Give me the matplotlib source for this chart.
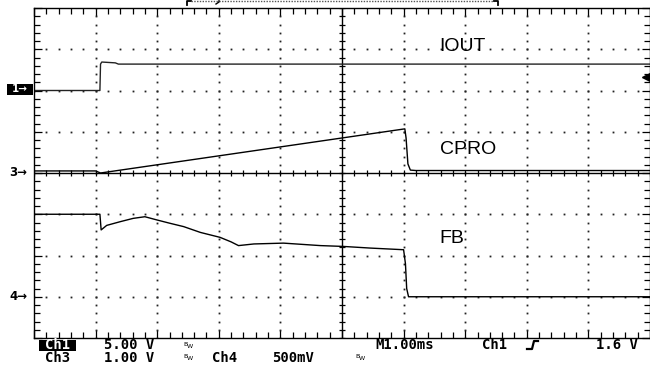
import matplotlib
matplotlib.use('Agg')
import matplotlib.pyplot as plt
from matplotlib.patches import Rectangle
import numpy as np

# ---- scope settings ----
time_per_div = 1.0          # ms/div (M1.00ms)
ch1_scale, ch1_ground = 5.0, 6   # V/div, ground position (div)
ch3_scale, ch3_ground = 1.0, 4
ch4_scale, ch4_ground = 0.5, 1
trigger_level = 1.6         # V on Ch1

# ---- traces (time in ms, value in V) ----
t_iout = [0.0, 1.07, 1.08, 1.10, 1.32, 1.37, 10.0]
v_iout = [0.0, 0.0, 3.20, 3.45, 3.35, 3.20, 3.20]

t_cpro = [0.0, 1.00, 1.08, 6.02, 6.04, 6.07, 6.11, 6.20, 10.0]
v_cpro = [0.05, 0.05, 0.0, 1.07, 0.85, 0.22, 0.07, 0.06, 0.06]

t_fb = [0.0, 1.07, 1.09, 1.18, 1.40, 1.61, 1.80, 2.00, 2.21, 2.43, 2.70,
        3.02, 3.20, 3.32, 3.57, 4.05, 4.65, 5.02, 5.46, 6.00, 6.03, 6.05,
        6.08, 10.0]
v_fb = [1.0, 1.0, 0.81, 0.865, 0.91, 0.95, 0.97, 0.93, 0.89, 0.85, 0.78,
        0.72, 0.665, 0.62, 0.64, 0.65, 0.62, 0.61, 0.59, 0.57, 0.40, 0.10,
        0.0, 0.0]

labels = ["IOUT", "CPRO", "FB"]

W, H = 650, 367
fig = plt.figure(figsize=(W / 100, H / 100), dpi=100)
fig.patch.set_facecolor('white')

x0, x1, ytop, ybot = 34, 650, 8, 338
ax = fig.add_axes([x0 / W, (H - ybot) / H, (x1 - x0) / W, (ybot - ytop) / H])
ax.set_xlim(0, 10)
ax.set_ylim(0, 8)
ax.set_facecolor('white')
for s in ax.spines.values():
    s.set_linewidth(1.0)
    s.set_color('black')
ax.set_xticks(range(0, 11))
ax.set_yticks(range(0, 9))
ax.set_xticks(np.arange(0, 10.01, 0.2), minor=True)
ax.set_yticks(np.arange(0, 8.01, 0.2), minor=True)
ax.tick_params(which='both', direction='in', top=True, right=True,
               labelbottom=False, labelleft=False, color='black', width=0.9)
ax.tick_params(which='major', length=6)
ax.tick_params(which='minor', length=4)

# dotted graticule
minor_x = np.arange(0, 10.01, 0.2)
minor_y = np.arange(0, 8.01, 0.2)
for gy in [1, 2, 3, 5, 6, 7]:
    ax.plot(minor_x, np.full_like(minor_x, gy), linestyle='none', marker='s',
            markersize=1.3, color='#222222', markeredgewidth=0)
for gx in [1, 2, 3, 4, 6, 7, 8, 9]:
    ax.plot(np.full_like(minor_y, gx), minor_y, linestyle='none', marker='s',
            markersize=1.3, color='#222222', markeredgewidth=0)

# centre cross with ticks
ax.axhline(4, color='black', lw=1.0)
ax.axvline(5, color='black', lw=1.0)
ax.plot(minor_x, np.full_like(minor_x, 4), linestyle='none', marker='|',
        markersize=5, color='black', markeredgewidth=0.9)
ax.plot(np.full_like(minor_y, 5), minor_y, linestyle='none', marker='_',
        markersize=5, color='black', markeredgewidth=0.9)

# traces
def to_div(t, v, scale, ground):
    return np.array(t) / time_per_div, ground + np.array(v) / scale

xi, yi = to_div(t_iout, v_iout, ch1_scale, ch1_ground)
xc, yc = to_div(t_cpro, v_cpro, ch3_scale, ch3_ground)
xf, yf = to_div(t_fb, v_fb, ch4_scale, ch4_ground)
ax.plot(xi, yi, color='#222222', lw=1.0)
ax.plot(xc, yc, color='black', lw=1.0)
ax.plot(xf, yf, color='black', lw=1.0)

# trigger level marker on the right
ax.plot([9.93], [ch1_ground + trigger_level / ch1_scale], marker='<',
        markersize=6, color='black', clip_on=False)

label_font = ['Liberation Sans Narrow', 'DejaVu Sans Condensed', 'Liberation Sans']
ax.text(6.95, 7.07, labels[0], fontsize=14, family=label_font, ha='center', va='center')
ax.text(7.04, 4.56, labels[1], fontsize=14, family=label_font, ha='center', va='center')
ax.text(6.78, 2.42, labels[2], fontsize=14, family=label_font, ha='center', va='center')

# overlay in pixel coordinates for screen annotations
ov = fig.add_axes([0, 0, 1, 1], zorder=5)
ov.set_xlim(0, W)
ov.set_ylim(H, 0)
ov.axis('off')
ov.patch.set_alpha(0)

# record bracket at top
ov.plot([187, 187, 191], [5, 0.8, 0.8], color='black', lw=1.3)
ov.plot([191, 494], [1.2, 1.2], color='#555555', lw=1.0, linestyle=(0, (1, 1)))
ov.plot([494, 498, 498], [0.8, 0.8, 5], color='black', lw=1.3)
ov.plot([216, 219, 219], [4, 2, 0.8], color='black', lw=1.0)

# channel markers
ov.add_patch(Rectangle((7, 83.5), 26, 11, facecolor='black', edgecolor='none'))
ov.text(20, 89.3, "1\u2192", fontsize=7.5, fontweight='bold', color='white', va='center',
        ha='center', family='DejaVu Sans')
ov.text(9, 173, "3\u2192", fontsize=8.5, fontweight='bold', color='black', va='center',
        ha='left', family='DejaVu Sans')
ov.text(9, 297, "4\u2192", fontsize=8.5, fontweight='bold', color='black', va='center',
        ha='left', family='DejaVu Sans')

# bottom readout
mono = 'DejaVu Sans Mono'
fs = 10
l1, l2 = 345, 357.5
ov.add_patch(Rectangle((39, 339.5), 37, 11, facecolor='black', edgecolor='none'))
ov.text(57.5, l1, "Ch1", fontsize=fs, family=mono, fontweight='bold', color='white',
        va='center', ha='center')
ov.text(104, l1, "5.00 V", fontsize=fs, family=mono, fontweight='bold', va='center', ha='left')
ov.text(57.5, l2, "Ch3", fontsize=fs, family=mono, fontweight='bold', va='center', ha='center')
ov.text(104, l2, "1.00 V", fontsize=fs, family=mono, fontweight='bold', va='center', ha='left')
ov.text(212, l2, "Ch4", fontsize=fs, family=mono, fontweight='bold', va='center', ha='left')
ov.text(272, l2, "500mV", fontsize=fs, family=mono, fontweight='bold', va='center', ha='left')
for bx, by in [(183, l1 - 1), (183, l2 - 1), (355, l2 - 1)]:
    ov.text(bx, by, "B", fontsize=4.5, va='center', ha='left')
    ov.text(bx + 4, by + 2, "W", fontsize=4.5, va='center', ha='left')
ov.text(375, l1, "M1.00ms", fontsize=fs, family=mono, fontweight='bold', va='center', ha='left')
ov.text(482, l1, "Ch1", fontsize=fs, family=mono, fontweight='bold', va='center', ha='left')
ov.plot([527, 532, 534, 538], [349, 349, 341, 341], color='black', lw=1.6)
ov.text(596, l1, "1.6 V", fontsize=fs, family=mono, fontweight='bold', va='center', ha='left')

fig.savefig('out.png', dpi=100)
